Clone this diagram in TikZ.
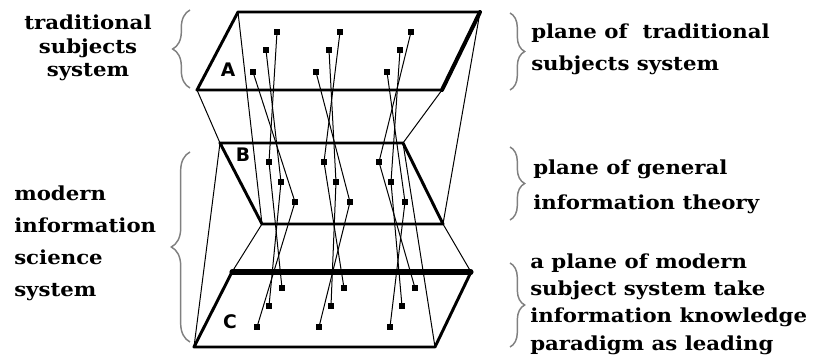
\documentclass[tikz,border=0pt]{standalone}
\usepackage{fontspec}
\setmainfont{DejaVu Serif}
\setsansfont{DejaVu Sans}
\newfontfamily\notefont[FakeStretch=1.1]{DejaVu Serif}
\usetikzlibrary{decorations.pathreplacing}
\definecolor{BraceGrey}{HTML}{808080}

\begin{document}
\begin{tikzpicture}[
  x=0.75pt, y=-0.75pt,
  edge/.style={line width=2.2pt, line cap=round, line join=round},
  thinline/.style={line width=0.75pt},
  fiber/.style={line width=0.75pt},
  dot/.style={fill, draw=none, rectangle, minimum size=3.8pt, inner sep=0pt},
  tag/.style={font=\sffamily\bfseries\fontsize{14}{14}\selectfont},
  note/.style={font=\notefont\bfseries\fontsize{14.5}{#1}\selectfont,
               align=left, anchor=west, inner sep=0pt},
  note/.default=24pt,
  curly/.style={decorate, decoration={brace, amplitude=#1},
                draw=BraceGrey, line width=1.1pt},
  curly/.default=11pt
]
  \useasboundingbox (0,0) rectangle (826,363);

  % plane corners
  \coordinate (A1) at (238,12);  \coordinate (A2) at (480,12);
  \coordinate (A3) at (442,90);  \coordinate (A4) at (197,90);
  \coordinate (B1) at (220,143); \coordinate (B2) at (403,143);
  \coordinate (B3) at (443,224); \coordinate (B4) at (262,224);
  \coordinate (C1) at (232,272); \coordinate (C2) at (471,272);
  \coordinate (C3) at (435,347); \coordinate (C4) at (194,347);

  % frustum lines between the planes
  \draw[thinline] (A1) -- (B4);
  \draw[thinline] (A4) -- (B1);
  \draw[thinline] (A2) -- (B3);
  \draw[thinline] (A3) -- (B2);
  \draw[thinline] (B1) -- (C4);
  \draw[thinline] (B4) -- (C1);
  \draw[thinline] (B2) -- (C3);
  \draw[thinline] (B3) -- (C2);

  % the three planes
  \draw[edge] (A1) -- (A2) -- (A3) -- (A4) -- cycle;
  \draw[edge, line width=3pt] (A2) -- (A3);
  \draw[edge] (B1) -- (B2) -- (B3) -- (B4) -- cycle;
  \draw[edge] (C1) -- (C2) -- (C3) -- (C4) -- cycle;
  \draw[edge, line width=3.8pt] (C1) -- (C2);

  \node[tag] (labA) at (228,70) {A};
  \node[tag] (labB) at (243,155) {B};
  \node[tag] (labC) at (230,322) {C};

  % fibres through the planes
  \foreach \k/\da/\db/\dc in {1/0/0/0, 2/63/55/62, 3/134/110/133}{
    \node[dot] (a\k1) at (277+\da,32) {};
    \node[dot] (a\k2) at (266+\da,50) {};
    \node[dot] (a\k3) at (253+\da,72) {};
    \node[dot] (b\k1) at (269+\db,162) {};
    \node[dot] (b\k2) at (281+\db,182) {};
    \node[dot] (b\k3) at (295+\db,202) {};
    \node[dot] (c\k1) at (282+\dc,288) {};
    \node[dot] (c\k2) at (269+\dc,306) {};
    \node[dot] (c\k3) at (257+\dc,327) {};
    \foreach \j in {1,2,3}
      \draw[fiber] (a\k\j) -- (b\k\j) -- (c\k\j);
  }

  % labels and braces
  \node[note=17.5pt, align=center, anchor=center] (trad) at (88,48)
    {traditional\\subjects\\system};
  \node[note=24pt] (modern) at (14,243)
    {modern\\information\\science\\system};
  \node[note] (pA) at (531,49) {plane of\ \ traditional\\subjects system};
  \node[note=26pt] (pB) at (533,187) {plane of general\\information theory};
  \node[note=20.5pt] (pC) at (530,304)
    {a plane of modern\\subject system take\\information knowledge\\paradigm as leading};

  \coordinate (lt1) at (190,88);  \coordinate (lt2) at (190,10);
  \coordinate (lb1) at (190,342); \coordinate (lb2) at (190,152);
  \coordinate (ra1) at (510,13);  \coordinate (ra2) at (510,90);
  \coordinate (rb1) at (510,147); \coordinate (rb2) at (510,220);
  \coordinate (rc1) at (510,263); \coordinate (rc2) at (510,347);

  \draw[curly=13pt] (lt1) -- (lt2);
  \draw[curly=14pt] (lb1) -- (lb2);
  \draw[curly] (ra1) -- (ra2);
  \draw[curly] (rb1) -- (rb2);
  \draw[curly] (rc1) -- (rc2);
\end{tikzpicture}
\end{document}
